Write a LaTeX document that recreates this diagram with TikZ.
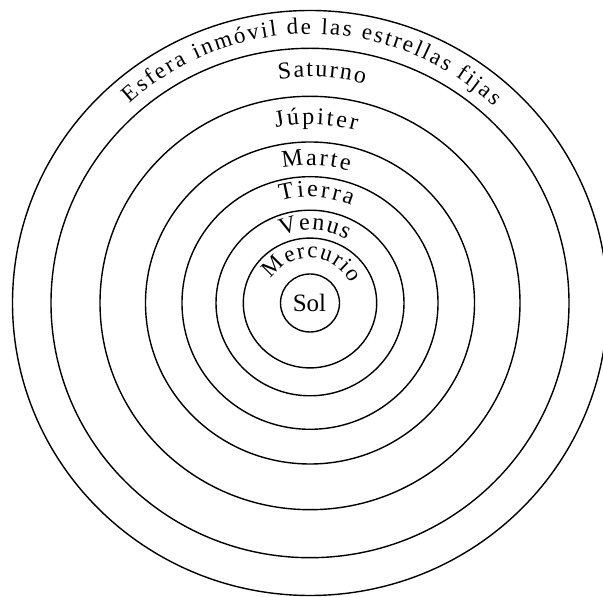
\documentclass[tikz,border=0pt]{standalone}
\usepackage{fontspec}
\setmainfont{Liberation Serif}
\usetikzlibrary{decorations.text}
\tikzset{
  orbit/.style={draw=black, line width=1.4pt},
}
\newcommand\arclabel[5]{%
  \path[decorate, decoration={text along path,
      text={|\fontsize{#5}{#5}\selectfont|#1},
      text align={fit to path}}]
    (c) ++(#3:#2) arc[start angle=#3, end angle=#4, radius=#2];}
\begin{document}
\begin{tikzpicture}[x=1pt,y=1pt]
\useasboundingbox (0,0) rectangle (603,597);
\clip (0,0) rectangle (603,597);
\coordinate (c) at (310,294);
% spheres
\draw[orbit] (c) ellipse [x radius=297.5, y radius=292.5];
\draw[orbit] (c) ellipse [x radius=259, y radius=254.7];
\draw[orbit] (c) ellipse [x radius=210, y radius=206.7];
\draw[orbit] (c) ellipse [x radius=164.5, y radius=161];
\draw[orbit] (c) ellipse [x radius=128, y radius=126.3];
\draw[orbit] (c) ellipse [x radius=94, y radius=92.8];
\draw[orbit] (c) ellipse [x radius=66.7, y radius=64.9];
\draw[orbit] (c) ellipse [x radius=29.5, y radius=29];
% labels
\arclabel{Esfera inmóvil de las estrellas fijas}{269}{132}{47}{23}
\arclabel{Saturno}{226}{98}{76}{24}
\arclabel{Júpiter}{178.5}{101}{75}{24}
\arclabel{Marte}{137.5}{101.5}{73.6}{24}
\arclabel{Tierra}{106}{106}{67}{24}
\arclabel{Venus}{73}{113}{60}{24}
\arclabel{Mercurio}{45}{148}{26}{23}
\node[font=\fontsize{25}{25}\selectfont, inner sep=0pt] (sol) at (309.5,294) {Sol};
\end{tikzpicture}
\end{document}
